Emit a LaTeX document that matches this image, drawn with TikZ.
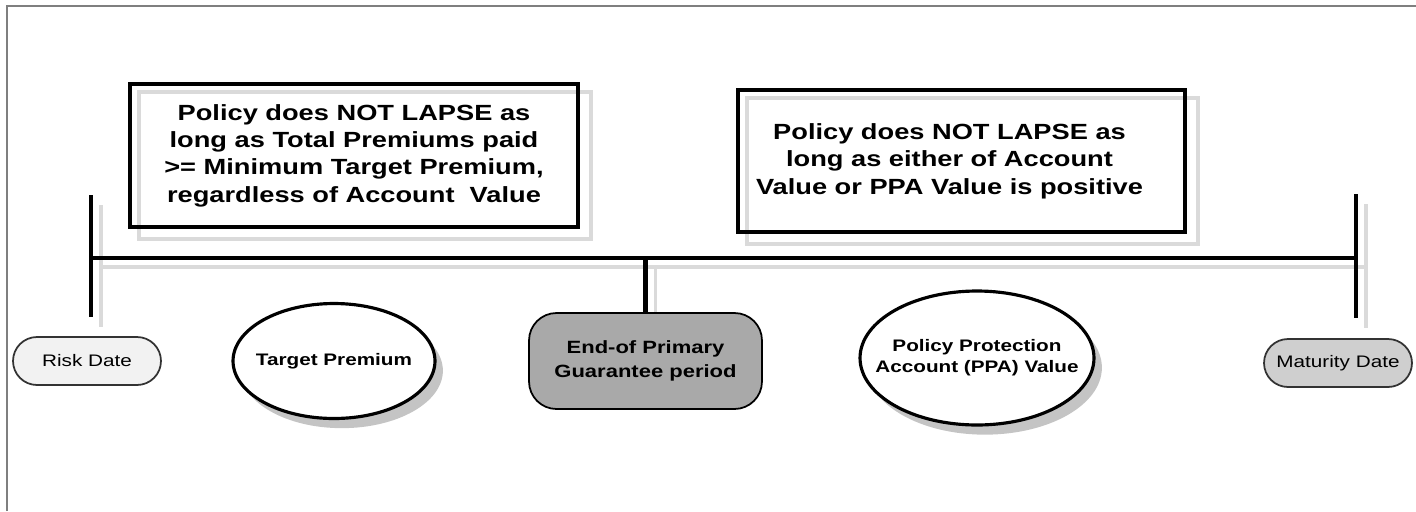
\documentclass[tikz,border=0pt]{standalone}
\usepackage{fontspec}
\setmainfont{Liberation Sans}[FakeStretch=1.24]
\usetikzlibrary{shapes.geometric,shapes.misc,shadows,backgrounds}
\definecolor{framegrey}{HTML}{7F7F7F}
\definecolor{shadowgrey}{HTML}{DADADA}
\definecolor{ovalshadow}{HTML}{C4C4C4}
\definecolor{riskgrey}{HTML}{F2F2F2}
\definecolor{maturitygrey}{HTML}{CFCFCF}
\definecolor{periodgrey}{HTML}{A9A9A9}
\newcommand{\padr}{\rule{0.48cm}{0pt}}
\tikzset{
  rulebox/.style={draw, line width=2.3pt, align=center, inner sep=0pt,
    font=\bfseries\fontsize{12.5}{15.6}\selectfont},
  oval/.style={ellipse, draw, line width=1.8pt, fill=white, inner sep=0pt,
    drop shadow={shadow xshift=4.5pt, shadow yshift=-5.5pt, fill=ovalshadow, opacity=1}},
  ovaltext/.style={align=center, inner sep=0pt, font=\bfseries\fontsize{9.5}{12}\selectfont},
  datepill/.style={rounded rectangle, draw=black!80, line width=1pt, inner sep=0pt,
    minimum height=0.96cm, font=\fontsize{9.5}{12}\selectfont},
  timeline/.style={line width=2.3pt},
  lineshadow/.style={draw=shadowgrey, line width=2pt}
}
\begin{document}
\begin{tikzpicture}[x=0.02cm, y=-0.02cm]
\useasboundingbox (0,0) rectangle (1416,511);
\draw[framegrey, line width=1.1pt] (7,511) -- (7,6) -- (1416,6);

% the time line
\coordinate (start) at (91,258);
\coordinate (finish) at (1356,258);
\coordinate (starttop) at (91,195);
\coordinate (startbot) at (91,317);
\coordinate (finishtop) at (1356,194);
\coordinate (finishbot) at (1356,318);

% the two rules
\node[rulebox, minimum width=8.96cm, minimum height=2.86cm] (lapse1) at (354,155.5)
  {Policy does NOT LAPSE as\\long as Total Premiums paid\\>= Minimum Target Premium,\\regardless of Account\ \ Value};
\node[rulebox, minimum width=8.94cm, minimum height=2.84cm] (lapse2) at (961.5,161)
  {Policy does NOT LAPSE as\padr\\long as either of Account\padr\\Value or PPA Value is positive\padr};

% the dates and values
\node[datepill, fill=riskgrey, minimum width=2.96cm] (risk) at (87,361) {Risk Date};
\node[datepill, fill=maturitygrey, minimum width=2.96cm] (maturity) at (1338,363) {Maturity Date};
\node[oval, minimum width=4.04cm, minimum height=2.3cm,
  label={[ovaltext]center:Target Premium}] (target) at (334,361) {};
\node[oval, minimum width=4.68cm, minimum height=2.68cm,
  label={[ovaltext]center:Policy Protection\\Account (PPA) Value}] (ppa) at (977,358) {};
\node[draw, line width=1pt, fill=periodgrey, rounded corners=0.55cm, inner sep=0pt,
  minimum width=4.66cm, minimum height=1.92cm, align=center,
  font=\bfseries\fontsize{10.1}{14}\selectfont] (period) at (645.5,361)
  {End-of Primary\\Guarantee period};

\draw[timeline] (starttop) -- (startbot);
\draw[timeline] (start) -- (finish);
\draw[timeline] (finishtop) -- (finishbot);
\draw[timeline] (period.north) -- (period.north |- start);

% shadows
\begin{scope}[on background layer]
  \draw[lineshadow] ([shift={(11,10)}]lapse1.north west) rectangle ([shift={(11,10)}]lapse1.south east);
  \draw[lineshadow] ([shift={(11,10)}]lapse2.north west) rectangle ([shift={(11,10)}]lapse2.south east);
  \draw[lineshadow] ([shift={(10,10)}]starttop) -- ([shift={(10,10)}]startbot);
  \draw[lineshadow] ([shift={(10,9)}]start) -- ([shift={(10,9)}]finish);
  \draw[lineshadow] ([shift={(10,10)}]finishtop) -- ([shift={(10,10)}]finishbot);
  \draw[lineshadow] ([shift={(10,0)}]period.north) -- ([shift={(10,9)}]period.north |- start);
\end{scope}
\end{tikzpicture}
\end{document}
